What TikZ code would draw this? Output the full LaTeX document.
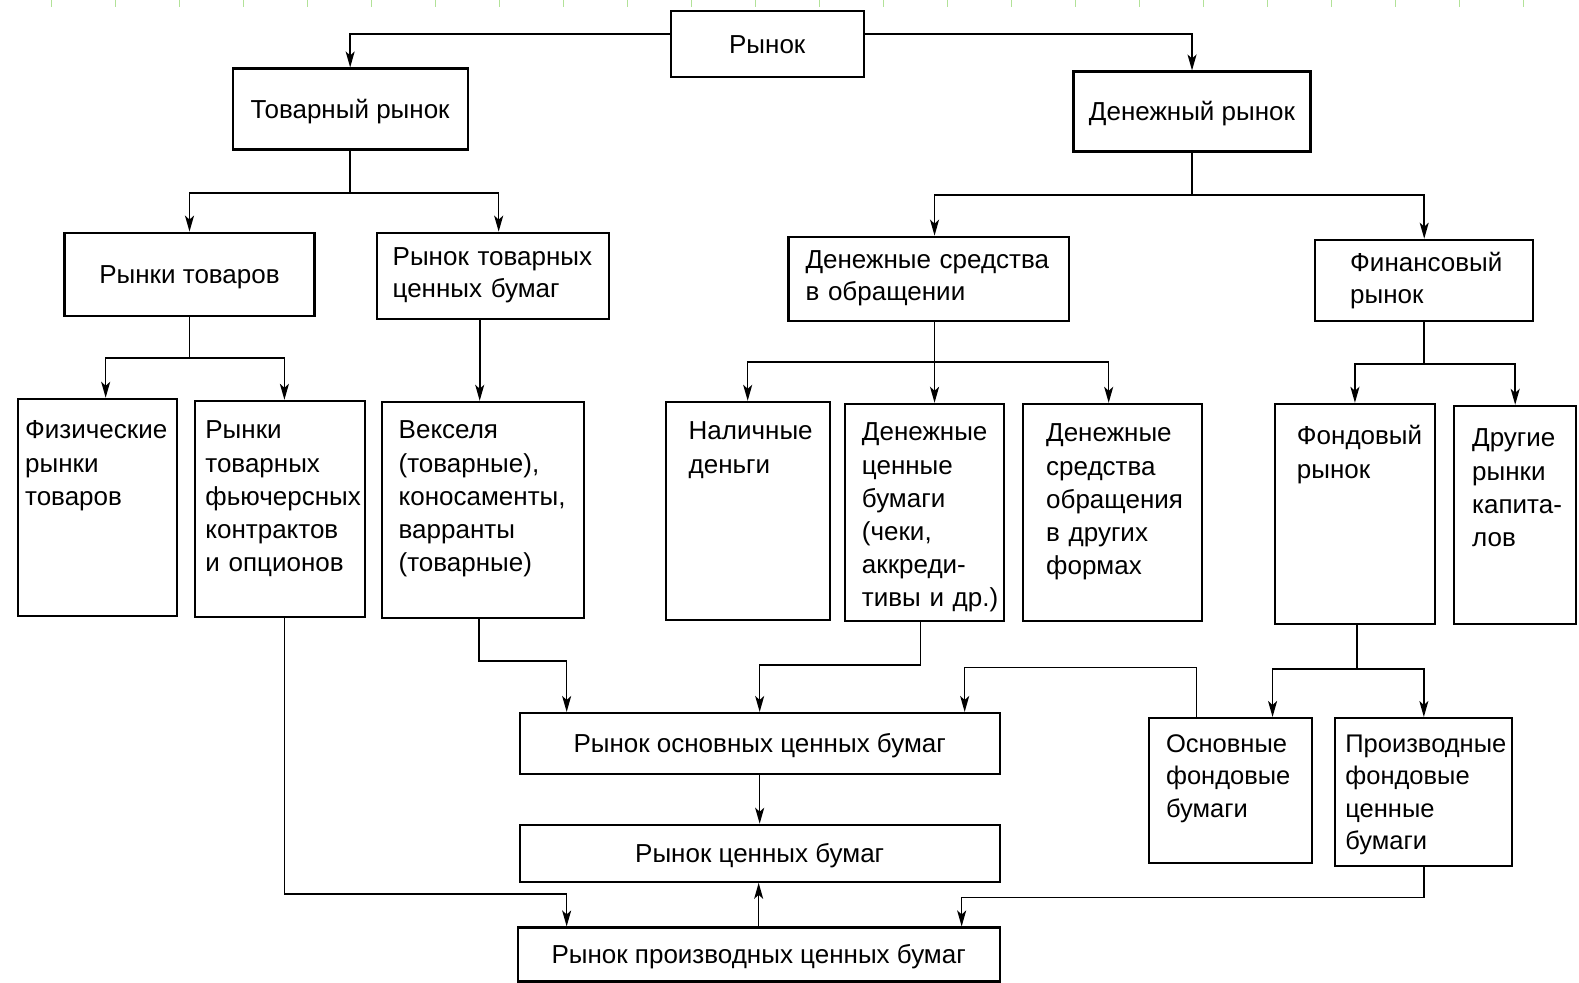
\documentclass[tikz,border=0pt]{standalone}
\usepackage{fontspec}
\setmainfont{Liberation Sans}
\usepackage{xcolor}
\usepackage{tikz}
\usetikzlibrary{arrows.meta}
\definecolor{ruler}{RGB}{178,226,152}
\hyphenpenalty=10000
\exhyphenpenalty=10000

\begin{document}
\begin{tikzpicture}[x=1.007pt, y=-1.007pt,
    box/.style={draw, line width=2.1pt, anchor=north west, inner sep=0pt,
        font=\fontsize{26}{32}\selectfont},
    wide/.style={box, text height=19pt, text depth=1pt},
    pair/.style={box, align=left},
    tall/.style={box, align=left, font=\fontsize{26}{33.2}\selectfont},
    link/.style={line width=1.6pt},
    arr/.style={link, -{Stealth[length=16pt, width=9pt, inset=4pt]}},
    tick/.style={ruler, line width=1.4pt}]
        \useasboundingbox (0,0) rectangle (1568,976);
        \foreach \k in {0,...,23}
            \draw[tick] ({(51.7+64*\k)/1.007},0) -- ++(0,7);

        % upper levels
        \node[wide, minimum width=193, minimum height=66] (mkt)   at (665,10)  {Рынок};
        \node[wide, minimum width=235, minimum height=81] (goods) at (230,67)  {Товарный рынок};
        \node[wide, minimum width=237, minimum height=80] (money) at (1065,70) {Денежный рынок};
        \node[wide, minimum width=250, minimum height=83] (gmk)   at (63,230)  {Рынки товаров};
        \node[pair, inner xsep=16, text width=200, minimum height=86] (gsec) at (373,230) {Рынок~товарных\\ценных бумаг};
        \node[pair, inner xsep=17, text width=246, minimum height=84] (circ) at (782,234) {Денежные~средства\\в обращении};
        \node[pair, inner xsep=35, text width=148, minimum height=81] (fin)  at (1305,237) {Финансовый\\рынок};

        % tall boxes
        \node[tall, inner xsep=7,  text width=145, text height=40, text depth=177] (phys)  at (17,395)   {Физические\\рынки\\товаров};
        \node[tall, inner xsep=10, text width=150, text height=38, text depth=178] (fut)   at (193,397)  {Рынки\\товарных\\фьючерсных\\контрактов\\и~опционов};
        \node[tall, inner xsep=17, text width=168, text height=37, text depth=179] (bills) at (378,398)  {Векселя\\(товарные),\\коносаменты,\\варранты\\(товарные)};
        \node[tall, inner xsep=23, text width=118, text height=38, text depth=180] (cash)  at (660,398)  {Наличные\\деньги};
        \node[tall, inner xsep=17, text width=125, text height=37, text depth=180] (mcp)   at (838,400)  {Денежные\\ценные\\бумаги\\(чеки,\\аккреди-\\тивы~и~др.)};
        \node[tall, inner xsep=23, text width=133, text height=38, text depth=179] (other) at (1015,400) {Денежные\\средства\\обращения\\в~других\\формах};
        \node[tall, inner xsep=22, text width=116, text height=41, text depth=179] (stock) at (1265,400) {Фондовый\\рынок};
        \node[tall, inner xsep=18, text width=86,  text height=41, text depth=177] (cap)   at (1443,402) {Другие\\рынки\\капита-\\лов};
        \node[tall, inner xsep=17, text width=129, text height=34, text depth=111,
              font=\fontsize{25.5}{32.5}\selectfont] (mainst) at (1140,712) {Основные\\фондовые\\бумаги};
        \node[tall, inner xsep=10, text width=157, text height=34, text depth=114,
              font=\fontsize{25.5}{32.5}\selectfont] (derst)  at (1325,712) {Производные\\фондовые\\ценные\\бумаги};

        % lower levels
        \node[wide, minimum width=480, minimum height=61] (basic)  at (515,707) {Рынок основных ценных бумаг};
        \node[wide, minimum width=480, minimum height=57] (secm)   at (515,818) {Рынок ценных бумаг};
        \node[wide, minimum width=482, minimum height=54] (derivm) at (513,920) {Рынок производных ценных бумаг};

        % connectors
        \draw[arr] ([yshift=10pt]mkt.west) -| (goods.north);
        \draw[arr] ([yshift=10pt]mkt.east) -| (money.north);

        \draw[link] (goods.south) -- ++(0,42) coordinate (g1);
        \draw[arr] (g1) -| (gmk.north);
        \draw[arr] (g1) -| ([xshift=6pt]gsec.north);

        \draw[link] (money.south) -- ++(0,42) coordinate (m1);
        \draw[arr] (m1) -| ([xshift=6pt]circ.north);
        \draw[arr] (m1) -| (fin.north);

        \draw[link] (gmk.south) -- ++(0,41) coordinate (g2);
        \draw[arr] (g2) -| ([xshift=8pt]phys.north);
        \draw[arr] (g2) -| ([xshift=4pt]fut.north);

        \draw[arr] ([xshift=-3pt]bills.north |- gsec.south) -- ([xshift=-3pt]bills.north);

        \draw[link] ([xshift=6pt]circ.south) -- ++(0,40) coordinate (c1);
        \draw[arr] (c1) -| (cash.north);
        \draw[arr] (c1) -- (c1 |- mcp.north);
        \draw[arr] (c1) -| ([xshift=-4pt]other.north);

        \draw[link] (fin.south) -- ++(0,42) coordinate (f1);
        \draw[arr] (f1) -| (stock.north);
        \draw[arr] (f1) -| (cap.north);

        \draw[arr] ([xshift=-4pt]bills.south) -- ++(0,42) -| ([xshift=-193pt]basic.north);
        \draw[arr] ([xshift=-4pt]mcp.south) -- ++(0,43) -| (basic.north);
        \draw[arr] ([xshift=-34pt]mainst.north) -- ++(0,-49) -| ([xshift=205pt]basic.north);

        \draw[link] ([xshift=2pt]stock.south) -- ++(0,44) coordinate (s1);
        \draw[arr] (s1) -| ([xshift=42pt]mainst.north);
        \draw[arr] (s1) -| (derst.north);

        \draw[arr] (basic.south) -- (secm.north);
        \draw[arr] (derivm.north) -- (derivm.north |- secm.south);
        \draw[arr] ([xshift=4pt]fut.south) -- ++(0,274) -| ([xshift=-192pt]derivm.north);
        \draw[arr] (derst.south) -- ++(0,30) -| ([xshift=203pt]derivm.north);
\end{tikzpicture}
\end{document}
